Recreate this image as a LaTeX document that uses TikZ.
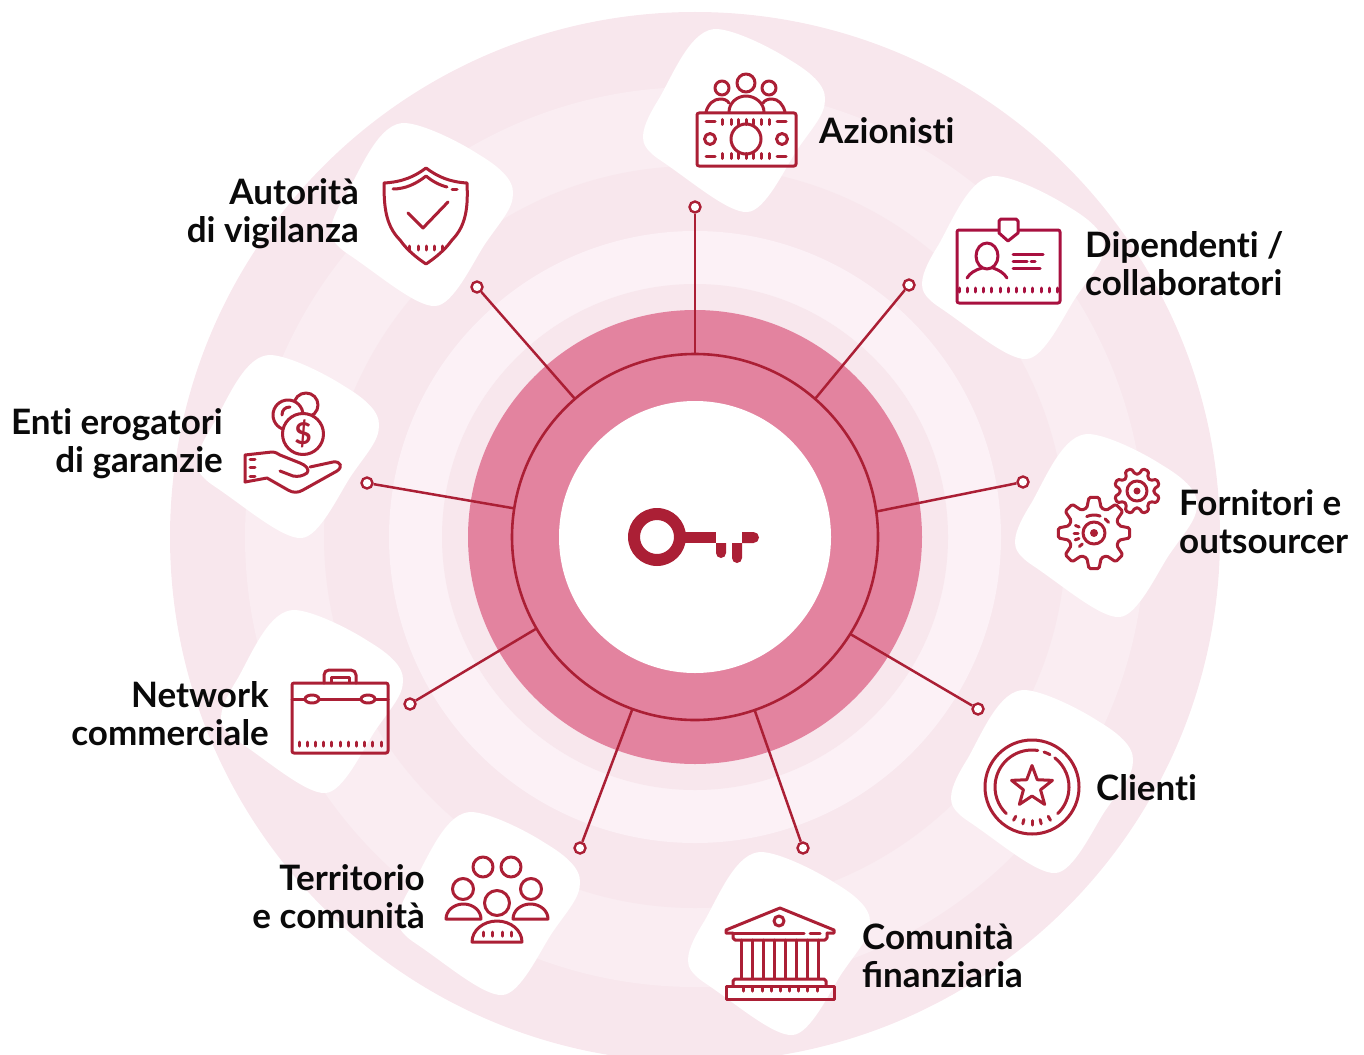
\documentclass[tikz,border=0pt]{standalone}
\usepackage{fontspec}
\setmainfont{Lato}
\usetikzlibrary{calc}
\definecolor{keyred}{HTML}{AB1F35}
\definecolor{badgered}{HTML}{A8103F}
\definecolor{halopink}{HTML}{E3839F}
\definecolor{bandA}{HTML}{F8E7ED}
\definecolor{bandB}{HTML}{FAEDF2}
\definecolor{bandC}{HTML}{FCF1F6}
\definecolor{inkblack}{HTML}{0A0A0A}
\newcommand\tisplit{t\kern0pt i}
\newcommand\gearpath[3]{% root radius, tip radius, offset
  +({#3-16}:#1)
  \foreach \k in {0,...,7}{
    \pgfextra {\pgfmathsetmacro\a{#3+45*\k}}
    -- +(\a-16:#1) -- +(\a-8:#2) -- +(\a+8:#2) -- +(\a+16:#1)
  } -- cycle
}
\tikzset{
  blob/.pic={
    \fill[white] (-75,-23) .. controls (-60,-50) and (-43,-92) .. (-18,-91)
      .. controls (0,-90) and (35,-73) .. (55,-60)
      .. controls (75,-48) and (91,-35) .. (90,-20)
      .. controls (90,-5) and (77,8) .. (62,30)
      .. controls (50,48) and (30,92) .. (12,92)
      .. controls (-7,93) and (-45,60) .. (-75,40)
      .. controls (-90,30) and (-92,23) .. (-92,17)
      .. controls (-92,5) and (-83,-10) .. (-75,-23) -- cycle;
  },
  icon/.style={draw=keyred,line width=3pt,line cap=round,line join=round},
  dotend/.style={circle,draw=keyred,fill=white,line width=2.4pt,minimum size=11pt,inner sep=0pt},
  link/.style={draw=keyred,line width=2.5pt},
  disc/.style={circle,inner sep=0pt,outer sep=0pt},
  tag/.style={inner sep=0pt,text=inkblack,font=\fontsize{35}{38}\selectfont\bfseries},
}
\begin{document}
\begin{tikzpicture}[x=1pt,y=-1pt]
\useasboundingbox (0,0) rectangle (1364,1054);
\foreach \r/\c in {525/bandA,450/bandB,371/bandA,306/bandC,253/bandA}
  \fill[\c] (695,537) circle[radius=\r];

\foreach \x/\y in {735/120,1014/267,1107/525,1043/781,780/943,490/903,313/701,289/446,423/214}
  \pic at (\x,\y) {blob};

\node (halo) [disc,fill=halopink,minimum size=454pt] at (695,537) {};
\node (hub) [disc,fill=white,minimum size=272pt] at (695,537) {};
\node (ring) [disc,draw=keyred,line width=2.6pt,minimum size=366pt] at (695,537) {};

\node (dA) [dotend] at (695,207) {};
\node (dB) [dotend] at (909,285) {};
\node (dC) [dotend] at (1023,482) {};
\node (dD) [dotend] at (978,709) {};
\node (dE) [dotend] at (803,848) {};
\node (dF) [dotend] at (580,848) {};
\node (dG) [dotend] at (410,704) {};
\node (dH) [dotend] at (367,483) {};
\node (dI) [dotend] at (477,287) {};
\foreach \e/\a in {dA/90,dB/49,dC/8.7,dD/-32.5,dE/-71.6,dF/250,dG/210.8,dH/171.3,dI/131.9}
  \draw[link] (ring.\a) -- (\e);

\node (azionisti) [tag,anchor=west] at (819,131) {Azionis\tisplit};
\node (dipendenti) [tag,anchor=west,align=left] at (1085,264) {Dipenden\tisplit{} /\\collaboratori};
\node (fornitori) [tag,anchor=west,align=left] at (1179,522) {Fornitori e\\outsourcer};
\node (clienti) [tag,anchor=west] at (1096,788) {Clien\tisplit};
\node (comunita) [tag,anchor=west,align=left] at (862,956) {Comunità\\finanziaria};
\node (territorio) [tag,anchor=east,align=right] at (425,897) {Territorio\\e comunità};
\node (network) [tag,anchor=east,align=right] at (269,714) {Network\\commerciale};
\node (enti) [tag,anchor=east,align=right] at (223,443.5) {En\tisplit{} erogatori\\di garanzie};
\node (autorita) [tag,anchor=east,align=right] at (359,213.5) {Autorità\\di vigilanza};

\fill[keyred,even odd rule] (657,537) circle[radius=29] circle[radius=17];
\fill[keyred] (684,532) rectangle (716,543);
\fill[keyred] (716,543) -- (716,553) arc[start angle=180,end angle=0,radius=5] -- (726,543) -- cycle;
\fill[keyred] (732,543) -- (732,558) arc[start angle=180,end angle=0,radius=5] -- (742,543) -- cycle;
\fill[keyred] (742,532) -- (753.5,532) arc[start angle=-90,end angle=90,radius=5.5] -- (742,543) -- cycle;

\draw[icon,rounded corners=2] (697,113) rectangle (796,166);
\draw[icon] (746,83) circle[radius=9] (722,88) circle[radius=7] (769,88) circle[radius=7] (746,139) circle[radius=15] (710,139) circle[radius=5.5] (782,139) circle[radius=5.5];
\draw[icon] (729,112) .. controls (729,103) and (737,96) .. (746,96) .. controls (755,96) and (764,103) .. (764,112);
\draw[icon] (706,112) .. controls (708,104) and (714,99) .. (720,99) .. controls (724,99) and (727,100) .. (729,103);
\draw[icon] (785,112) .. controls (783,104) and (778,99) .. (772,99) .. controls (768,99) and (765,100) .. (763,103);
\foreach \y in {122,156}{
  \draw[icon] (706,\y) -- (715,\y) (777,\y) -- (786,\y);
  \foreach \x in {722,731,738,746,753,761,769}
    \draw[icon] (\x,\y-2.5) -- (\x,\y+2.5);
}

\draw[icon,draw=badgered,rounded corners=2] (957,230) rectangle (1060,303);
\draw[icon,draw=badgered,fill=white] (999,233) -- (999,221) -- (1001,219) -- (1016,219) -- (1018,221) -- (1018,233) -- (1008,241) -- cycle;
\draw[icon,draw=badgered] (987,256) ellipse[x radius=11,y radius=13];
\draw[icon,draw=badgered] (967,278) .. controls (970,273) and (975,270) .. (982,268) (1007,278) .. controls (1004,273) and (999,270) .. (993,268);
\draw[icon,draw=badgered] (1013,254) -- (1043,254) (1013,261) -- (1027,261) (1031,261) -- (1035,261) (1013,268) -- (1040,268);
\foreach \k in {0,...,12}
  \draw[icon,draw=badgered] ({959+8.2*\k},288) -- ({959+8.2*\k},292);

\draw[icon,rounded corners=1.5] (1094,533) \gearpath{26}{36}{0};
\draw[icon] (1094,533) circle[radius=11];
\fill[keyred] (1094,533) circle[radius=4];
\draw[icon] (1094,533) ++(-114:18) arc[start angle=-114,end angle=-70,radius=18];
\draw[icon] (1094,533) ++(-52:18) arc[start angle=-52,end angle=-36,radius=18];
\foreach \a in {202,180,160,137}
  \draw[icon] (1094,533) +(\a:16) -- +(\a:20);
\draw[icon,rounded corners=1.5] (1137,491) \gearpath{17}{23}{22.5};
\draw[icon] (1137,491) circle[radius=10];
\fill[keyred] (1137,491) circle[radius=3.5];

\draw[icon] (1032,787) circle[radius=47];
\draw[icon] (1032,787) ++(-81:37) arc[start angle=-81,end angle=-226,radius=37];
\draw[icon] (1032,787) ++(-52:37) arc[start angle=-52,end angle=46,radius=37];
\draw[icon] (1032,787) ++(-71:37) arc[start angle=-71,end angle=-61,radius=37];
\foreach \a in {61,76,90,104,119}
  \draw[icon] (1032,787) +(\a:33.5) -- +(\a:38);
\draw[icon] (1032,787) +(-90:21.5) -- +(-54:9) -- +(-18:21.5) -- +(18:9) -- +(54:21.5) -- +(90:9) -- +(126:21.5) -- +(162:9) -- +(198:21.5) -- +(234:9) -- cycle;

\draw[icon] (733,933) -- (726,933) -- (726,930) -- (780,908) -- (834,930) -- (834,933) -- (827,933);
\draw[icon] (733,933) -- (804,933) (810,933) -- (820,933);
\draw[icon] (779,921) circle[radius=5];
\draw[icon] (733,933) -- (733,938) -- (735,940) -- (825,940) -- (827,938) -- (827,933);
\foreach \x in {741,752,763,774,785,796,807,818}
  \draw[icon] (\x,940) -- (\x,978);
\draw[icon] (733,986) -- (733,981) -- (735,979) -- (824,979) -- (826,981) -- (826,986);
\draw[icon] (733,986) -- (726,986) -- (726,999) -- (834,999) -- (834,986) -- (826,986) -- cycle;
\foreach \x in {743,752,762,771,780,789,798,807,817}
  \draw[icon] (\x,987.5) -- (\x,991);

\draw[icon] (483,867) circle[radius=10] (511,867) circle[radius=10] (463,889) circle[radius=10.5] (531,889) circle[radius=10.5] (497,903) circle[radius=12.5];
\draw[icon] (446,919) arc[start angle=180,end angle=360,x radius=17.5,y radius=15] -- cycle;
\draw[icon] (513,919) arc[start angle=180,end angle=360,x radius=17.5,y radius=15] -- cycle;
\draw[icon] (472,942) arc[start angle=180,end angle=360,x radius=25,y radius=21] -- cycle;
\foreach \x in {483,492,502,511}
  \draw[icon] (\x,932) -- (\x,936);

\draw[icon,rounded corners=2] (292,683) rectangle (388,753);
\draw[icon,rounded corners=5] (324,683) -- (324,670) -- (356,670) -- (356,683);
\draw[icon] (331,682) -- (331,677) -- (349,677) -- (349,682);
\draw[icon] (292,699) -- (388,699);
\draw[icon,fill=white] (312,699) ellipse[x radius=7,y radius=4] (368,699) ellipse[x radius=7,y radius=4];
\foreach \k in {0,...,10}
  \draw[icon] ({299+8.2*\k},742) -- ({299+8.2*\k},746);

\draw[icon,fill=white] (306,405) circle[radius=12];
\draw[icon,fill=white] (288,415) circle[radius=15];
\draw[icon] (282,415) .. controls (282,410) and (285,407) .. (290,407);
\draw[icon,fill=white] (303,434) circle[radius=20.5];
\node (dollar) [inner sep=0pt,text=keyred,font=\fontsize{30}{30}\selectfont\bfseries] at (303,434) {\$};
\draw[icon] (245,482) -- (245,455) -- (272,452) .. controls (276,452) and (278,454) .. (280,455) -- (300,463) .. controls (306,465) and (310,470) .. (307,473) .. controls (303,476) and (298,477) .. (293,476) -- (280,471);
\draw[icon] (310,467) -- (333,462) .. controls (341,461) and (343,467) .. (337,471) -- (303,490) .. controls (298,493) and (293,493) .. (288,490) -- (267,478) -- (245,482);
\draw[icon] (250,459) -- (255,459) (250,467) -- (255,467) (250,476) -- (255,476);

\draw[icon] (426,168) .. controls (438,177) and (450,182) .. (467,183) .. controls (468,205) and (467,225) .. (452,240) .. controls (445,250) and (435,258) .. (426,264) .. controls (417,258) and (407,250) .. (400,240) .. controls (385,225) and (384,205) .. (384,183) .. controls (402,182) and (414,177) .. (426,168) -- cycle;
\draw[icon] (393,189) .. controls (405,189) and (416,184) .. (426,176) .. controls (432,181) and (439,185) .. (447,187);
\draw[icon] (452,189) -- (457,189);
\draw[icon] (408,213) -- (423,228) -- (448,202);
\foreach \x in {409,418,426,434,442}
  \draw[icon] (\x,246) -- (\x,250);
\end{tikzpicture}
\end{document}
